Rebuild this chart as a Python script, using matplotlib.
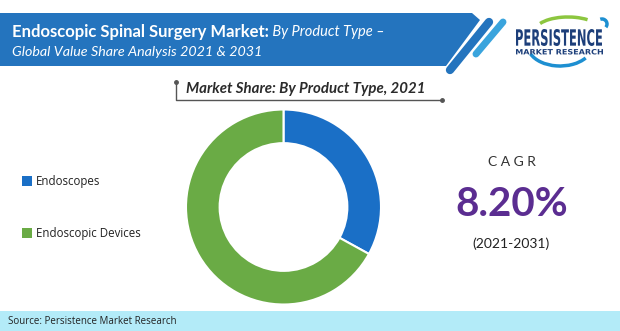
import numpy as np
import matplotlib
matplotlib.use("Agg")
import matplotlib.pyplot as plt
from matplotlib.patches import Polygon, Rectangle, Arc, PathPatch
from matplotlib.textpath import TextPath
from matplotlib.font_manager import FontProperties
from matplotlib.transforms import Affine2D

# -- data --
segments = ["Endoscopes", "Endoscopic Devices"]
shares = [33, 67]
colors = ["#1a6fc6", "#6aab45"]

title_bold = "Endoscopic Spinal Surgery Market:"
title_rest = " By Product Type \u2013"
title_line2 = "Global Value Share Analysis 2021 & 2031"
subtitle = "Market Share: By Product Type, 2021"
cagr_value = "8.20%"
cagr_period = "(2021-2031)"
source = "Source: Persistence Market Research"

FONT = "Lato"
BANNER = "#2474be"
PURPLE = "#5b2d91"
LOGO = "#1d3f7a"

fig = plt.figure(figsize=(6.2, 3.31), dpi=100)
fig.patch.set_facecolor("white")

# background axes in pixel coordinates (y grows downward)
bg = fig.add_axes([0, 0, 1, 1])
bg.set_xlim(0, 620)
bg.set_ylim(331, 0)
bg.axis("off")

# header banner with slanted right edge
banner = Polygon([(0, 13), (472, 13), (480, 20), (446, 66), (0, 66)],
                 closed=True, facecolor=BANNER, edgecolor="none")
bg.add_patch(banner)
# diagonal stripes
bg.plot([489, 450], [22, 70], color=BANNER, lw=6, solid_capstyle="round")
bg.plot([503, 476], [22, 54], color="#3aa4dd", lw=5, solid_capstyle="round")

# title text (bold part + italic part)
t1 = bg.text(12, 32, title_bold, color="white", fontsize=12, fontweight="bold",
             family=FONT, va="center", ha="left")
fig.canvas.draw()
bb = t1.get_window_extent()
x_end = bb.x1 * 620 / fig.bbox.width
bg.text(x_end, 32, title_rest, color="white", fontsize=10.5, style="italic",
        family=FONT, va="center", ha="left")
bg.text(12, 52, title_line2, color="white", fontsize=10.3, style="italic",
        family=FONT, va="center", ha="left")


def squeezed_text(s, x, y, width, height, size, weight="bold"):
    # draw text as a path stretched to fit a given pixel box
    tp = TextPath((0, 0), s, size=size,
                  prop=FontProperties(family="DejaVu Sans", weight=weight))
    ext = tp.get_extents()
    sx = width / ext.width
    sy = height / ext.height
    tr = Affine2D().translate(-ext.x0, -ext.y0).scale(sx, -sy).translate(x, y + height)
    bg.add_patch(PathPatch(tr.transform_path(tp), facecolor=LOGO, edgecolor="none"))


# logo swooshes (theta 180-360 is the upper half on screen here)
bg.add_patch(Arc((568, 31), 66, 28, theta1=195, theta2=330, color="#8cc63f", lw=2.5))
bg.add_patch(Arc((602, 24), 10, 10, theta1=250, theta2=40, color="#1d8fd1", lw=2.5))
bg.add_patch(Arc((560, 46), 64, 40, theta1=25, theta2=165, color="#1d8fd1", lw=2.5))
squeezed_text("PERSISTENCE", 516, 29, 86, 17, 20)
squeezed_text("MARKET RESEARCH", 516, 49, 87, 5.5, 10)

# subtitle with bracket
bg.text(186, 89, subtitle, color="#2b2b2b", fontsize=10.8, style="italic",
        fontweight="bold", family=FONT, ha="left", va="center")
bg.plot([176, 176, 442], [82, 100, 100], color="#555555", lw=1)
bg.plot([176], [82], marker="o", ms=2.5, color="#555555")
bg.plot([442], [100], marker="o", ms=2.5, color="#555555")

# legend
for y, lab, c in zip([181, 233], segments, colors):
    bg.add_patch(Rectangle((22, y - 5), 10, 10, facecolor=c, edgecolor="none"))
    bg.text(36, y, lab, fontsize=8.3, color="#222222", family="Open Sans",
            ha="left", va="center")

# CAGR block
bg.text(512, 162, "C A G R", fontsize=10, color="#333333", family=FONT,
        ha="center", va="center")
bg.text(512, 204, cagr_value, fontsize=29, color=PURPLE, fontweight="bold",
        family=FONT, ha="center", va="center")
bg.text(511, 244, cagr_period, fontsize=10, color="#222222", family=FONT,
        ha="center", va="center")

# footer band
bg.add_patch(Rectangle((0, 311), 620, 20, facecolor="#b3ebf8", edgecolor="none"))
bg.text(8, 321, source, fontsize=7, color="#222222", family="Open Sans",
        ha="left", va="center")

# donut chart
cx, cy, r = 283.5, 207, 97.5
ax = fig.add_axes([(cx - r) / 620, 1 - (cy + r) / 331, 2 * r / 620, 2 * r / 331])
ax.pie(shares, colors=colors, startangle=90, counterclock=False, radius=1,
       wedgeprops=dict(width=0.345, edgecolor="white", linewidth=1.5))
ax.set_xlim(-1, 1)
ax.set_ylim(-1, 1)
ax.set_aspect("equal")
ax.axis("off")

fig.savefig("out.png", dpi=100, facecolor="white")
